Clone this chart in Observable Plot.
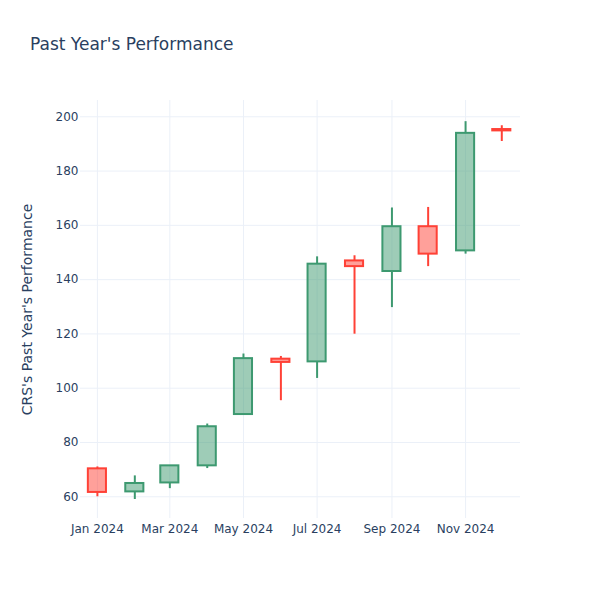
<!DOCTYPE html>
<html>
<head>
<meta charset="utf-8">
<script src="https://cdn.jsdelivr.net/npm/d3@7"></script>
<script src="https://cdn.jsdelivr.net/npm/@observablehq/plot@0.6"></script>
<style>
  body { margin: 0; background: #fff; font-family: "DejaVu Sans", sans-serif; }
  #wrap { width: 600px; height: 600px; position: relative; }
  #title { position: absolute; left: 30px; top: 33px; font-size: 17px; color: #2a3f5f; line-height: 22px; white-space: nowrap; }
  #chart { position: absolute; left: 0; top: 60px; }
</style>
</head>
<body>
<div id="wrap">
  <div id="title">Past Year's Performance</div>
  <div id="chart"></div>
</div>
<script>
const dates = ["2024-01-01","2024-02-01","2024-03-01","2024-04-01","2024-05-01","2024-06-01","2024-07-01","2024-08-01","2024-09-01","2024-10-01","2024-11-01","2024-12-01"];
const opens  = [70.3, 61.8, 65.1, 71.4,  90.3, 110.7, 109.7, 146.9, 143.0, 159.5, 150.6, 195.3];
const highs  = [71.0, 67.7, 71.5, 86.8, 112.6, 111.7, 148.4, 148.8, 166.4, 166.6, 198.2, 196.7];
const lows   = [60.0, 59.0, 63.0, 70.4,  90.0,  95.4, 103.6, 119.9, 129.7, 144.8, 149.4, 190.9];
const closes = [61.6, 64.9, 71.4, 85.8, 110.9, 109.5, 145.7, 144.8, 159.5, 149.4, 193.9, 194.8];
const yTicks = [60, 80, 100, 120, 140, 160, 180, 200];
const xTicks = ["2024-01-01","2024-03-01","2024-05-01","2024-07-01","2024-09-01","2024-11-01"];
const yLabel = "CRS's Past Year's Performance";

const DAY = 86400000;
const data = dates.map((d, i) => {
  const t = new Date(d + "T00:00:00Z");
  return {
    date: t,
    x1: new Date(+t - 7.5 * DAY),
    x2: new Date(+t + 7.5 * DAY),
    open: opens[i], high: highs[i], low: lows[i], close: closes[i],
    top: Math.max(opens[i], closes[i]),
    bottom: Math.min(opens[i], closes[i]),
    up: closes[i] >= opens[i]
  };
});
const line = d => d.up ? "#3D9970" : "#FF4136";
const fill = d => d.up ? "rgba(61,153,112,0.5)" : "rgba(255,65,54,0.5)";
const xt = xTicks.map(d => new Date(d + "T00:00:00Z"));
const fmt = d3.utcFormat("%b %Y");

const chart = Plot.plot({
  width: 600,
  height: 540,
  marginLeft: 80,
  marginRight: 80,
  marginTop: 40,
  marginBottom: 82,
  style: { fontFamily: "DejaVu Sans, sans-serif", fontSize: "12px", color: "#2a3f5f", background: "#fff" },
  x: { type: "utc", domain: [new Date("2023-12-18T00:00:00Z"), new Date("2024-12-16T12:00:00Z")] },
  y: { domain: [52, 206] },
  marks: [
    Plot.gridY(yTicks, { stroke: "#EBF0F8", strokeOpacity: 1, strokeWidth: 1 }),
    Plot.gridX(xt, { stroke: "#EBF0F8", strokeOpacity: 1, strokeWidth: 1 }),
    Plot.axisY(yTicks, { tickSize: 0, tickPadding: 2, label: null, fill: "#2a3f5f", fontSize: 12 }),
    Plot.axisX(xt, { tickSize: 0, tickPadding: 6, label: null, tickFormat: fmt, fill: "#2a3f5f", fontSize: 12 }),
    Plot.text([yLabel], { frameAnchor: "left", dx: -53, rotate: -90, fontSize: 14, fill: "#2a3f5f", textAnchor: "middle" }),
    Plot.ruleX(data, { x: "date", y1: "top", y2: "high", stroke: line, strokeWidth: 2 }),
    Plot.ruleX(data, { x: "date", y1: "low", y2: "bottom", stroke: line, strokeWidth: 2 }),
    Plot.rect(data, { x1: "x1", x2: "x2", y1: "open", y2: "close", fill: fill, stroke: line, strokeWidth: 2 })
  ]
});
document.getElementById("chart").appendChild(chart);
</script>
</body>
</html>
